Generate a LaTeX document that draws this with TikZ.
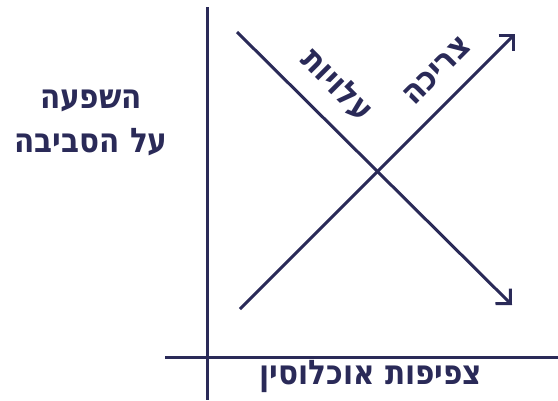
\documentclass[tikz,border=0pt]{standalone}
\usepackage{fontspec}
\usepackage{graphicx}
\newfontfamily\heb[Script=Hebrew]{DejaVu Sans}
\TeXXeTstate=1
\usetikzlibrary{arrows.meta}
\definecolor{navy}{HTML}{2A2A58}
\newcommand{\hebtxt}[1]{\scalebox{1}[1.15]{\beginR #1\endR}}
\tikzset{
  axisline/.style={draw=navy, line width=3pt},
  trendline/.style={draw=navy, line width=3pt, -{Straight Barb[angle=90:15pt, line width=3pt]}},
  lbl/.style={text=navy, font=\heb\bfseries\fontsize{29.5}{34}\selectfont, inner sep=0pt}
}
\begin{document}
\begin{tikzpicture}[x=1pt,y=-1pt]
\useasboundingbox (0,0) rectangle (558,400);
\coordinate (vtop) at (207,7);
\coordinate (vbot) at (207,400);
\coordinate (hl) at (165,357);
\coordinate (hr) at (558,357);
\coordinate (a1) at (237,32);
\coordinate (b1) at (512,305);
\coordinate (a2) at (240,309);
\coordinate (b2) at (515,34);
\draw[axisline] (vtop) -- (vbot);
\draw[axisline] (hl) -- (hr);
\draw[trendline] (a1) -- (b1);
\draw[trendline] (a2) -- (b2);
\node[lbl, anchor=base] (y1) at (91,108) {\hebtxt{השפעה}};
\node[lbl, anchor=base] (y2) at (91,152) {\hebtxt{על הסביבה}};
\node[lbl, anchor=base] (xl) at (371,384) {\hebtxt{צפיפות אוכלוסין}};
\node[lbl, rotate=-45] (cost) at (337,85) {\hebtxt{עלויות}};
\node[lbl, rotate=45] (cons) at (437,71) {\hebtxt{צריכה}};
\end{tikzpicture}
\end{document}
